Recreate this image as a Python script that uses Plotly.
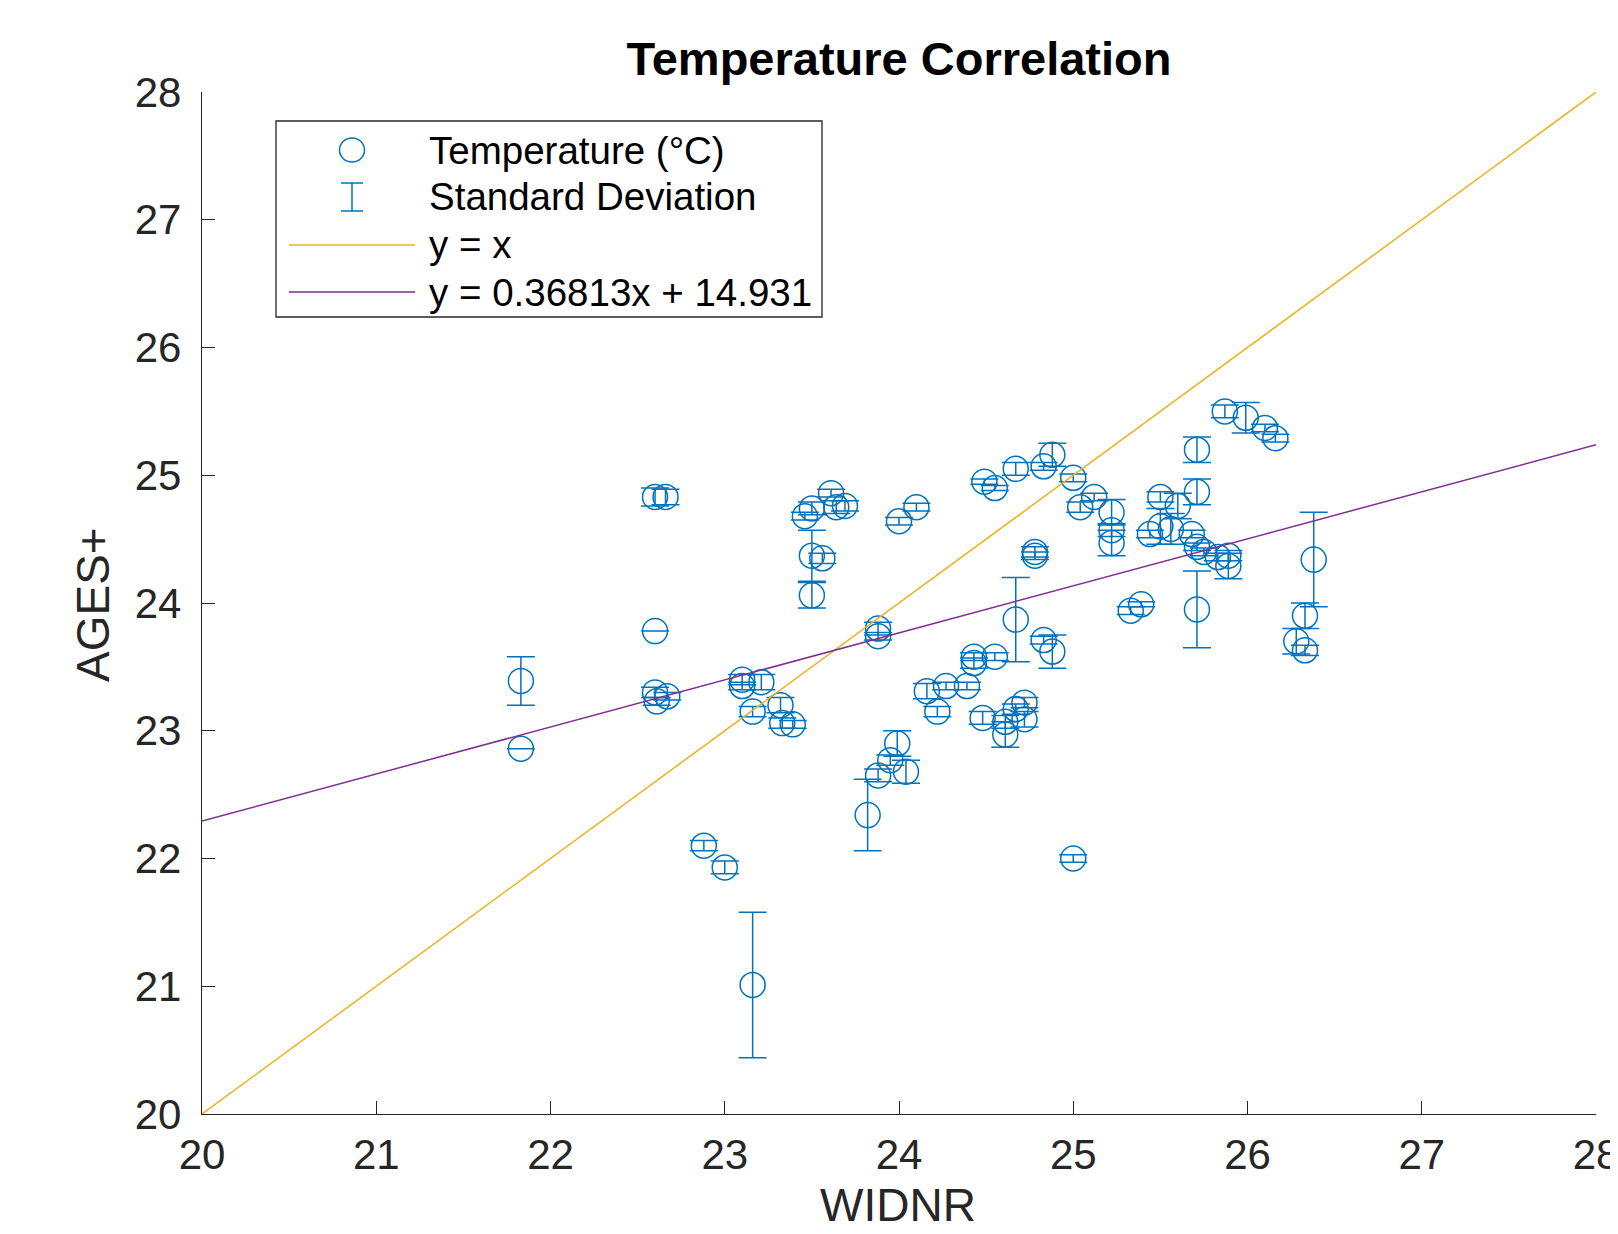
import plotly.graph_objects as go

# ---------------- data ----------------
widnr = [21.83, 21.83, 22.60, 22.66, 22.60, 22.60, 22.61, 22.67, 22.88, 23.00,
         23.16, 23.10, 23.10, 23.21, 23.16, 23.32, 23.33, 23.39, 23.46, 23.50,
         23.61, 23.64, 23.69, 23.50, 23.56, 23.50, 23.82, 23.88, 23.95, 23.99,
         24.04, 23.88, 23.88, 24.00, 24.10, 24.16, 24.22, 24.27, 24.39, 24.43,
         24.43, 24.55, 24.48, 24.61, 24.61, 24.67, 24.72, 24.72, 24.67, 24.78,
         24.78, 24.83, 24.88, 24.49, 24.55, 24.67, 24.83, 24.88, 25.00, 25.04,
         25.12, 25.22, 25.22, 25.22, 25.00, 25.33, 25.39, 25.50, 25.44, 25.50,
         25.56, 25.60, 25.68, 25.71, 25.71, 25.71, 25.75, 25.71, 25.83, 25.89,
         25.89, 25.87, 25.99, 26.10, 26.16, 26.38, 26.33, 26.28, 26.33]
ages = [23.39, 22.86, 24.83, 24.83, 23.78, 23.30, 23.23, 23.27, 22.10, 21.93,
        21.01, 23.40, 23.35, 23.38, 23.15, 23.20, 23.06, 23.05, 24.68, 24.74,
        24.86, 24.75, 24.76, 24.37, 24.35, 24.06, 22.34, 22.65, 22.77, 22.90,
        22.68, 23.80, 23.74, 24.64, 24.75, 23.31, 23.15, 23.35, 23.35, 23.58,
        23.53, 23.58, 23.10, 23.07, 22.97, 23.17, 23.09, 23.22, 23.87, 24.40,
        24.37, 23.71, 23.62, 24.95, 24.90, 25.05, 25.07, 25.16, 24.98, 24.75,
        24.83, 24.71, 24.57, 24.47, 22.00, 23.94, 23.99, 24.83, 24.54, 24.60,
        24.58, 24.76, 24.54, 25.20, 24.87, 24.44, 24.40, 23.95, 24.36, 24.37,
        24.29, 25.50, 25.45, 25.37, 25.29, 24.34, 23.90, 23.70, 23.63]
std = [0.19, 0.00, 0.07, 0.06, 0.00, 0.04, 0.03, 0.03, 0.04, 0.05,
       0.57, 0.04, 0.03, 0.06, 0.04, 0.06, 0.04, 0.03, 0.03, 0.05,
       0.03, 0.05, 0.04, 0.20, 0.04, 0.10, 0.28, 0.05, 0.04, 0.10,
       0.09, 0.05, 0.03, 0.03, 0.03, 0.06, 0.04, 0.03, 0.03, 0.03,
       0.04, 0.03, 0.05, 0.05, 0.10, 0.04, 0.06, 0.04, 0.33, 0.04,
       0.03, 0.03, 0.13, 0.02, 0.02, 0.05, 0.03, 0.09, 0.03, 0.04,
       0.03, 0.10, 0.05, 0.10, 0.03, 0.03, 0.02, 0.04, 0.03, 0.14,
       0.12, 0.10, 0.03, 0.10, 0.10, 0.03, 0.03, 0.30, 0.03, 0.04,
       0.10, 0.05, 0.12, 0.03, 0.03, 0.37, 0.10, 0.10, 0.04]

line_x = [20, 28]
fit_slope = 0.36813
fit_intercept = 14.931

tick_vals = [20, 21, 22, 23, 24, 25, 26, 27, 28]
legend_labels = ["Temperature (°C)", "Standard Deviation", "y = x",
                 "y = 0.36813x + 14.931"]

# ---------------- styling ----------------
BLUE = "#0072BD"
YELLOW = "#EDB120"
PURPLE = "#7E2F8E"
AX = "#262626"
FONT = "Liberation Sans, Arial, sans-serif"

OFF = 8  # page body margin
W, H = 1618 - OFF, 1234 - 2 * OFF
# plot area in window pixels
L, R, T, B = 202, 1596, 92, 1114


def px(x):
    return (x - L) / (R - L)


def py(y):
    return (B - y) / (B - T)


fig = go.Figure()

fig.add_trace(go.Scatter(
    x=widnr, y=ages, mode="markers",
    marker=dict(symbol="circle-open", size=25, color=BLUE,
                line=dict(width=1.5, color=BLUE)),
    error_y=dict(type="data", array=std, visible=True, color=BLUE,
                 thickness=1.5, width=14),
    showlegend=False, cliponaxis=True,
))

fig.add_trace(go.Scatter(
    x=line_x, y=[v for v in line_x], mode="lines",
    line=dict(color=YELLOW, width=1.5), showlegend=False,
))
fig.add_trace(go.Scatter(
    x=line_x, y=[fit_slope * v + fit_intercept for v in line_x], mode="lines",
    line=dict(color=PURPLE, width=1.5), showlegend=False,
))

# ---------------- custom legend ----------------
shapes = []
annotations = []
bx0, by0, bx1, by1 = 276, 121, 822, 317
shapes.append(dict(type="rect", xref="paper", yref="paper",
                   x0=px(bx0), x1=px(bx1), y0=py(by1), y1=py(by0),
                   line=dict(color=AX, width=1.3), fillcolor="white",
                   layer="above"))
rows = [150, 197, 245, 292]
sx = 352
shapes.append(dict(type="circle", xref="paper", yref="paper",
                   x0=px(sx - 12.5), x1=px(sx + 12.5),
                   y0=py(rows[0] + 12), y1=py(rows[0] - 12),
                   line=dict(color=BLUE, width=1.5), layer="above"))
itop, ibot = rows[1] - 14, rows[1] + 14
for seg in [((sx, itop), (sx, ibot)), ((sx - 11, itop), (sx + 11, itop)),
            ((sx - 11, ibot), (sx + 11, ibot))]:
    (xa, ya), (xb, yb) = seg
    shapes.append(dict(type="line", xref="paper", yref="paper",
                       x0=px(xa), x1=px(xb), y0=py(ya), y1=py(yb),
                       line=dict(color=BLUE, width=1.5), layer="above"))
for r, c in [(rows[2], YELLOW), (rows[3], PURPLE)]:
    shapes.append(dict(type="line", xref="paper", yref="paper",
                       x0=px(289), x1=px(415), y0=py(r), y1=py(r),
                       line=dict(color=c, width=1.5), layer="above"))
for r, lab in zip(rows, legend_labels):
    annotations.append(dict(xref="paper", yref="paper", x=px(427), y=py(r),
                            text=lab, showarrow=False, xanchor="left",
                            yanchor="middle",
                            font=dict(family=FONT, size=38.5, color="black")))

annotations.append(dict(xref="paper", yref="paper", x=px(898), y=py(1205),
                        text="WIDNR", showarrow=False, xanchor="center",
                        yanchor="middle",
                        font=dict(family=FONT, size=46, color=AX)))
annotations.append(dict(xref="paper", yref="paper", x=px(93), y=py(605),
                        text="AGES+", showarrow=False, xanchor="center",
                        yanchor="middle", textangle=-90,
                        font=dict(family=FONT, size=46, color=AX)))

axis_common = dict(
    range=[20, 28], tickmode="array", tickvals=tick_vals,
    ticktext=[str(v) for v in tick_vals],
    showgrid=False, zeroline=False, showline=True, linecolor=AX,
    linewidth=1.3, ticks="inside", tickcolor=AX, tickwidth=1.3, ticklen=13,
    tickfont=dict(family=FONT, size=42, color=AX), mirror=False,
    ticklabeloverflow="allow", automargin=False,
)

fig.update_layout(
    width=W, height=H, autosize=False,
    margin=dict(l=L - OFF, r=W - (R - OFF), t=T - OFF, b=H - (B - OFF), pad=0,
                autoexpand=False),
    paper_bgcolor="white", plot_bgcolor="white",
    title=dict(text="<b>Temperature Correlation</b>", x=0.5, xref="paper",
               y=1 - (59 - OFF) / H, yref="container", xanchor="center",
               yanchor="middle",
               font=dict(family=FONT, size=47, color="black")),
    xaxis=dict(**axis_common, ticklabelstandoff=3),
    yaxis=dict(**axis_common, ticklabelstandoff=11),
    shapes=shapes, annotations=annotations,
    showlegend=False,
)

fig.write_html("out.html")
